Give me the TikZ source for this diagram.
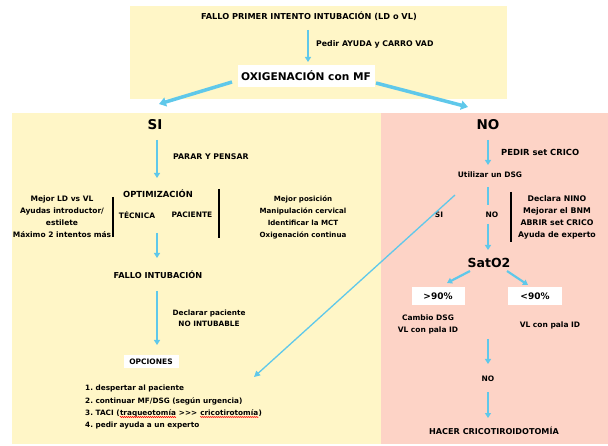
\documentclass[tikz,border=0pt]{standalone}
\usepackage{fontspec}
\setmainfont{DejaVu Sans}
\usetikzlibrary{arrows.meta,decorations.pathmorphing}
\definecolor{paleyellow}{RGB}{255,246,199}
\definecolor{palepink}{RGB}{253,211,198}
\definecolor{flowblue}{RGB}{95,200,234}
\newcommand\fs[1]{\fontsize{#1}{12}\selectfont\bfseries}
\tikzset{
  txt/.style={inner sep=1pt, font=\fs{7.5}, align=center},
  caps/.style={inner sep=1pt, font=\fs{8.2}, align=center},
  item/.style={inner sep=0pt, anchor=base west, font=\fs{7.3}},
  big/.style={inner sep=1pt, font=\fontsize{13.5}{15}\selectfont\bfseries},
  mid/.style={inner sep=1pt, font=\fontsize{12.5}{14}\selectfont\bfseries},
  whitebox/.style={fill=white, inner sep=0pt, align=center},
  flow/.style={draw=flowblue, line width=1.8pt, -{Triangle[length=5pt,width=6pt]}},
  fork/.style={draw=flowblue, line width=3.5pt, -{Triangle[length=7pt,width=9pt]}},
  skip/.style={draw=flowblue, line width=1.3pt, -{Triangle[length=6pt,width=6pt]}},
  bar/.style={draw=black, line width=1.6pt},
  squiggle/.style={draw=red, line width=0.5pt, decorate, decoration={snake, amplitude=0.6pt, segment length=2pt}},
}
\begin{document}
\begin{tikzpicture}[x=1pt,y=-1pt]
\useasboundingbox (0,0) rectangle (608,446);
% background panels
\fill[paleyellow] (130,6) rectangle (507,99);
\fill[paleyellow] (12,113) rectangle (381,444);
\fill[palepink] (381,113) rectangle (608,444);

% top
\node[caps] (fallo1) at (309,16) {FALLO PRIMER INTENTO INTUBACIÓN (LD o VL)};
\coordinate (t1) at (308,30);
\coordinate (t2) at (308,62);
\draw[flow] (t1) -- (t2);
\node[txt, anchor=west, font=\fs{7.8}] (ayuda) at (315,44) {Pedir AYUDA y CARRO VAD};
\node[whitebox, minimum width=137pt, minimum height=22pt, font=\fontsize{10.6}{12}\selectfont\bfseries] (oxi) at (306,76) {OXIGENACIÓN con MF};

\coordinate (fl) at (159,104);
\coordinate (fr) at (468,107);
\draw[fork] (232,82) -- (fl);
\draw[fork] (376,83) -- (fr);

% left branch
\node[big] (si) at (155,125) {SI};
\draw[flow] (157,140) -- (157,178);
\node[txt, anchor=west, font=\fs{7.8}] (parar) at (172,157) {PARAR Y PENSAR};
\node[caps, font=\fs{8.4}] (optim) at (158,194) {OPTIMIZACIÓN};
\node[txt] (tecnica) at (137,215) {TÉCNICA};
\node[txt] (paciente) at (192,215) {PACIENTE};
\draw[bar] (113,197) -- (113,237);
\draw[bar] (219,189) -- (219,238);
\node[txt] (mejorld) at (62,217) {Mejor LD vs VL\\Ayudas introductor/\\estilete\\Máximo 2 intentos más};
\node[txt, font=\fs{7.1}] (mejorpos) at (303,217) {Mejor posición\\Manipulación cervical\\Identificar la MCT\\Oxigenación continua};
\draw[flow] (157,233) -- (157,258);
\node[caps] (fallo2) at (158,275) {FALLO INTUBACIÓN};
\draw[flow] (157,291) -- (157,345);
\node[txt, font=\fontsize{7.3}{11}\selectfont\bfseries] (declarar) at (209,318) {Declarar paciente\\NO INTUBABLE};
\node[whitebox, minimum width=55pt, minimum height=13pt, font=\fs{7.5}] (opciones) at (151,362) {OPCIONES};

% options list
\node[item] (op1) at (85,391) {1.\ despertar al paciente};
\node[item] (op2) at (85,403) {2.\ continuar MF/DSG (según urgencia)};
\node[item] (op3a) at (85,415) {3.\ TACI (};
\node[item] (op3b) at (op3a.base east) {traqueotomía};
\node[item] (op3c) at ([xshift=2.6pt]op3b.base east) {>{}>{}>};
\node[item] (op3d) at ([xshift=2.6pt]op3c.base east) {cricotirotomía};
\node[item] (op3e) at (op3d.base east) {)};
\node[item] (op4) at (85,427) {4.\ pedir ayuda a un experto};
\draw[squiggle] ([yshift=-2pt]op3b.base west) -- ([yshift=-2pt]op3b.base east);
\draw[squiggle] ([yshift=-2pt]op3d.base west) -- ([yshift=-2pt]op3d.base east);

% right branch
\node[big] (no) at (488,125) {NO};
\draw[flow] (488,140) -- (488,165);
\node[caps, anchor=west, font=\fs{8.4}] (pedir) at (500,152) {PEDIR set CRICO};
\node[txt] (dsg) at (490,175) {Utilizar un DSG};
\node[txt] (no2) at (492,215) {NO};
\node[txt] (si2) at (439,215) {SI};
\draw[draw=flowblue, line width=1.8pt] (488,187) -- (488,205);
\draw[flow] (488,224) -- (488,250);
\draw[bar] (511,192) -- (511,242);
\node[txt, font=\fs{7.8}] (declara) at (557,217) {Declara NINO\\Mejorar el BNM\\ABRIR set CRICO\\Ayuda de experto};
\node[mid] (sat) at (489,263) {SatO2};
\coordinate (gt) at (447,283);
\coordinate (lt) at (528,285);
\draw[flow, line width=2.2pt] (470,271) -- (gt);
\draw[flow, line width=2.2pt] (507,271) -- (lt);
\node[whitebox, minimum width=53pt, minimum height=18pt, font=\fontsize{9}{10}\selectfont\bfseries] (mayor) at (438,296) {>90\%};
\node[whitebox, minimum width=54pt, minimum height=18pt, font=\fontsize{9}{10}\selectfont\bfseries] (menor) at (535,296) {<90\%};
\node[txt] (cambio) at (428,324) {Cambio DSG\\VL con pala ID};
\node[txt] (vlpala) at (550,325) {VL con pala ID};
\draw[flow] (488,339) -- (488,364);
\node[txt] (no3) at (488,379) {NO};
\draw[flow] (488,392) -- (488,418);
\node[caps, font=\fs{8.1}] (hacer) at (494,431) {HACER CRICOTIROIDOTOMÍA};

% shortcut from the DSG branch to the options list
\draw[skip] (455,195) -- (254,377);
\end{tikzpicture}
\end{document}
